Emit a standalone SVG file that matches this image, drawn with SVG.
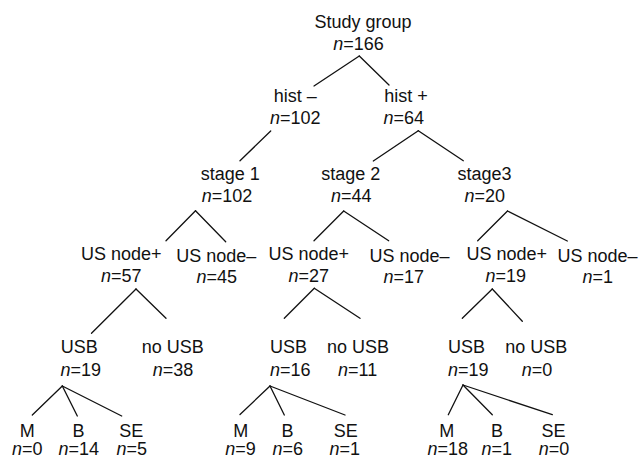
<svg xmlns="http://www.w3.org/2000/svg" width="639" height="459" viewBox="0 0 639 459">
  <style>
    text { font-family: "Liberation Sans", Arial, Helvetica, sans-serif; font-size: 18px; fill: #111; text-anchor: middle; }
    .i { font-style: italic; }
    #connectors line { stroke: #111; stroke-width: 1.3; stroke-linecap: round; }
  </style>
  <rect width="639" height="459" fill="#fff"/>

  <g id="connectors">
    <!-- root -->
    <line x1="359.3" y1="56" x2="314" y2="86"/>
    <line x1="359.3" y1="56" x2="389" y2="85"/>
    <!-- hist - -->
    <line x1="270.7" y1="131" x2="240" y2="160.7"/>
    <!-- hist + -->
    <line x1="418.3" y1="130.7" x2="373.3" y2="161"/>
    <line x1="418.3" y1="130.7" x2="463.3" y2="160.7"/>
    <!-- stage 1 -->
    <line x1="195.5" y1="210.7" x2="166" y2="240.7"/>
    <line x1="195.5" y1="210.7" x2="225.7" y2="241.7"/>
    <!-- stage 2 -->
    <line x1="343.7" y1="211" x2="314" y2="240.7"/>
    <line x1="343.7" y1="211" x2="388.7" y2="240.7"/>
    <!-- stage3 -->
    <line x1="507.5" y1="211" x2="477.7" y2="240.7"/>
    <line x1="507.5" y1="211" x2="567.3" y2="241"/>
    <!-- US node+ (stage 1) -->
    <line x1="136" y1="289" x2="91.5" y2="333.3"/>
    <line x1="136" y1="289" x2="166" y2="318.3"/>
    <!-- US node+ (stage 2) -->
    <line x1="314.3" y1="288.3" x2="284.3" y2="318.3"/>
    <line x1="314.3" y1="288.3" x2="360" y2="318.3"/>
    <!-- US node+ (stage3) -->
    <line x1="492.3" y1="289" x2="462.3" y2="318.3"/>
    <line x1="492.3" y1="289" x2="522.3" y2="321.3"/>
    <!-- USB (stage 1) -->
    <line x1="62.3" y1="386" x2="32.3" y2="415"/>
    <line x1="62.3" y1="386" x2="77.3" y2="416"/>
    <line x1="62.3" y1="386" x2="121.7" y2="416"/>
    <!-- USB (stage 2) -->
    <line x1="270" y1="386" x2="240" y2="414.5"/>
    <line x1="270" y1="386" x2="284.3" y2="415"/>
    <line x1="270" y1="386" x2="345" y2="415"/>
    <!-- USB (stage3) -->
    <line x1="463" y1="385" x2="448.3" y2="414.7"/>
    <line x1="463" y1="385" x2="492.3" y2="414.7"/>
    <line x1="463" y1="385" x2="552.3" y2="414.7"/>
  </g>

  <g id="study-group"><text x="363" y="28">Study group</text><text x="358.5" y="50"><tspan class="i">n</tspan>=166</text></g>
  <g id="hist-neg"><text x="295.3" y="102">hist –</text><text x="295.3" y="124"><tspan class="i">n</tspan>=102</text></g>
  <g id="hist-pos"><text x="406" y="102">hist +</text><text x="403.7" y="124"><tspan class="i">n</tspan>=64</text></g>

  <g id="stage1"><text x="230.3" y="180">stage 1</text><text x="227" y="202"><tspan class="i">n</tspan>=102</text></g>
  <g id="stage2"><text x="350.7" y="180">stage 2</text><text x="351.3" y="202"><tspan class="i">n</tspan>=44</text></g>
  <g id="stage3"><text x="484.5" y="180">stage3</text><text x="484.8" y="202"><tspan class="i">n</tspan>=20</text></g>

  <g id="s1-node-pos"><text x="121.2" y="260">US node+</text><text x="121.3" y="282"><tspan class="i">n</tspan>=57</text></g>
  <g id="s1-node-neg"><text x="216.3" y="262">US node–</text><text x="216.7" y="283"><tspan class="i">n</tspan>=45</text></g>
  <g id="s2-node-pos"><text x="308.7" y="260">US node+</text><text x="308.7" y="282"><tspan class="i">n</tspan>=27</text></g>
  <g id="s2-node-neg"><text x="409.5" y="262">US node–</text><text x="403.8" y="283"><tspan class="i">n</tspan>=17</text></g>
  <g id="s3-node-pos"><text x="506.7" y="260">US node+</text><text x="505.8" y="282"><tspan class="i">n</tspan>=19</text></g>
  <g id="s3-node-neg"><text x="597.5" y="262">US node–</text><text x="597.8" y="283"><tspan class="i">n</tspan>=1</text></g>

  <g id="s1-usb"><text x="79.2" y="353">USB</text><text x="80.8" y="376"><tspan class="i">n</tspan>=19</text></g>
  <g id="s1-no-usb"><text x="172.8" y="353">no USB</text><text x="173" y="376"><tspan class="i">n</tspan>=38</text></g>
  <g id="s2-usb"><text x="288.5" y="353">USB</text><text x="290.3" y="376"><tspan class="i">n</tspan>=16</text></g>
  <g id="s2-no-usb"><text x="358" y="353">no USB</text><text x="357.7" y="376"><tspan class="i">n</tspan>=11</text></g>
  <g id="s3-usb"><text x="466.5" y="353">USB</text><text x="468.3" y="376"><tspan class="i">n</tspan>=19</text></g>
  <g id="s3-no-usb"><text x="536.3" y="353">no USB</text><text x="537" y="376"><tspan class="i">n</tspan>=0</text></g>

  <g id="s1-m"><text x="27.2" y="437">M</text><text x="27.2" y="455"><tspan class="i">n</tspan>=0</text></g>
  <g id="s1-b"><text x="78.5" y="437">B</text><text x="78.7" y="455"><tspan class="i">n</tspan>=14</text></g>
  <g id="s1-se"><text x="131.3" y="437">SE</text><text x="131.7" y="455"><tspan class="i">n</tspan>=5</text></g>
  <g id="s2-m"><text x="240.8" y="437">M</text><text x="240.5" y="455"><tspan class="i">n</tspan>=9</text></g>
  <g id="s2-b"><text x="287.5" y="437">B</text><text x="287.7" y="455"><tspan class="i">n</tspan>=6</text></g>
  <g id="s2-se"><text x="345.7" y="437">SE</text><text x="344.7" y="455"><tspan class="i">n</tspan>=1</text></g>
  <g id="s3-m"><text x="446.8" y="437">M</text><text x="447.8" y="455"><tspan class="i">n</tspan>=18</text></g>
  <g id="s3-b"><text x="497" y="437">B</text><text x="496.8" y="455"><tspan class="i">n</tspan>=1</text></g>
  <g id="s3-se"><text x="553.5" y="437">SE</text><text x="554" y="455"><tspan class="i">n</tspan>=0</text></g>
</svg>
